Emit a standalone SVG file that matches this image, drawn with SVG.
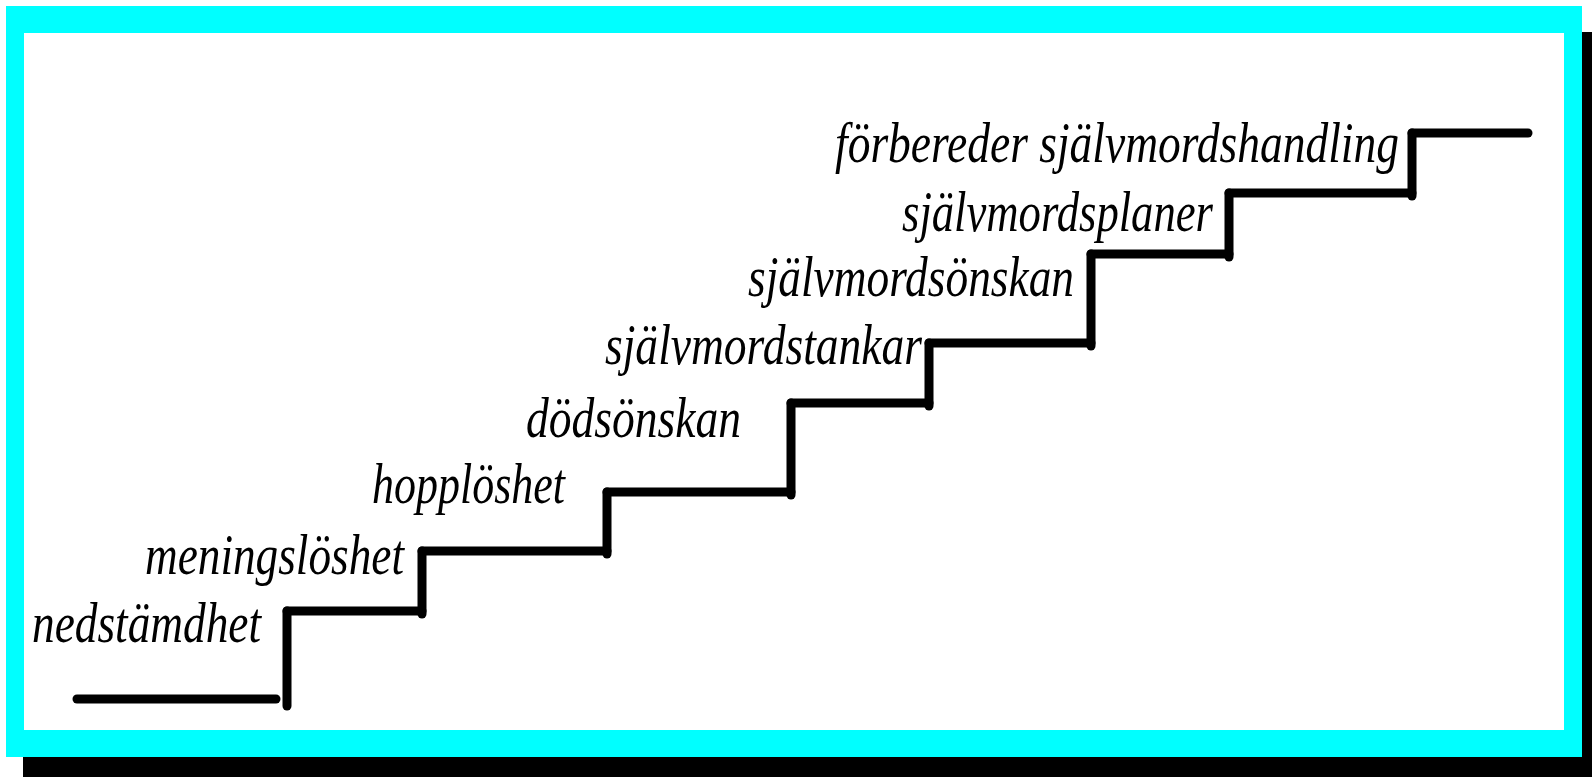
<svg xmlns="http://www.w3.org/2000/svg" width="1592" height="777" viewBox="0 0 1592 777">
<style>
.lbl{font-family:"Liberation Serif","Times New Roman",serif;font-style:italic;font-size:58px;fill:#000}
.st{stroke:#000;stroke-width:9;stroke-linecap:round;fill:none}
</style>
<rect x="0" y="0" width="1592" height="777" fill="#fff"/>
<g id="frame">
<rect x="23" y="32" width="1569" height="745" fill="#000"/>
<rect x="6" y="6" width="1576" height="751" fill="#00ffff"/>
<rect x="24" y="33" width="1540" height="697" fill="#fff"/>
</g>
<g id="connectors" class="st">
<line x1="77" y1="699" x2="276" y2="699"/>
<line x1="287" y1="611" x2="287" y2="706"/>
<line x1="287" y1="611" x2="422" y2="611"/>
<line x1="422" y1="551" x2="422" y2="614"/>
<line x1="422" y1="551" x2="607" y2="551"/>
<line x1="607" y1="492" x2="607" y2="554"/>
<line x1="607" y1="492" x2="791" y2="492"/>
<line x1="791" y1="403" x2="791" y2="495"/>
<line x1="791" y1="403" x2="929" y2="403"/>
<line x1="929" y1="343" x2="929" y2="406"/>
<line x1="929" y1="343" x2="1091" y2="343"/>
<line x1="1091" y1="254" x2="1091" y2="346"/>
<line x1="1091" y1="254" x2="1229" y2="254"/>
<line x1="1229" y1="193" x2="1229" y2="257"/>
<line x1="1229" y1="193" x2="1412" y2="193"/>
<line x1="1412" y1="133" x2="1412" y2="196"/>
<line x1="1412" y1="133" x2="1528" y2="133"/>
</g>
<g id="n1"><text class="lbl" x="32" y="642" textLength="229" lengthAdjust="spacingAndGlyphs">nedstämdhet</text></g>
<g id="n2"><text class="lbl" x="145" y="574" textLength="259" lengthAdjust="spacingAndGlyphs">meningslöshet</text></g>
<g id="n3"><text class="lbl" x="372" y="503" textLength="193" lengthAdjust="spacingAndGlyphs">hopplöshet</text></g>
<g id="n4"><text class="lbl" x="526" y="437" textLength="215" lengthAdjust="spacingAndGlyphs">dödsönskan</text></g>
<g id="n5"><text class="lbl" x="605" y="364" textLength="317" lengthAdjust="spacingAndGlyphs">självmordstankar</text></g>
<g id="n6"><text class="lbl" x="748" y="296" textLength="326" lengthAdjust="spacingAndGlyphs">självmordsönskan</text></g>
<g id="n7"><text class="lbl" x="902" y="231" textLength="311" lengthAdjust="spacingAndGlyphs">självmordsplaner</text></g>
<g id="n8"><text class="lbl" x="835" y="162" textLength="564" lengthAdjust="spacingAndGlyphs">förbereder självmordshandling</text></g>
</svg>
